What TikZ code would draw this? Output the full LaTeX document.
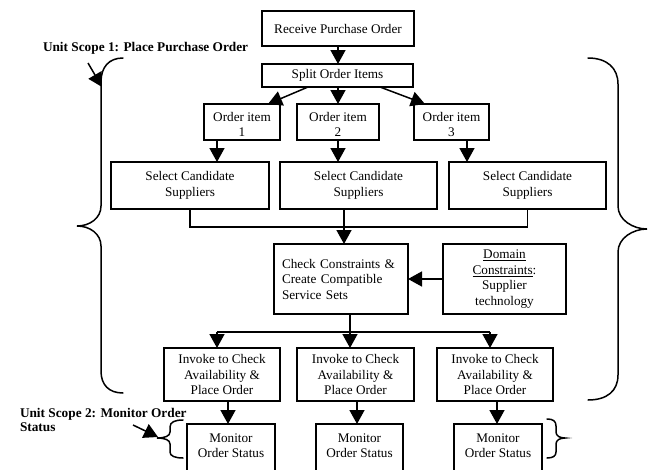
\documentclass[tikz,border=0pt]{standalone}
\usepackage{fontspec}
\setmainfont{Liberation Serif}
\usetikzlibrary{arrows.meta}
\begin{document}
\begin{tikzpicture}[x=1pt,y=-1pt,
  box/.style={draw, line width=1.5pt, inner sep=0pt, outer sep=0pt, align=center, font=\fontsize{13.2}{15.5}\selectfont},
  txt/.style={inner sep=0pt, outer sep=0pt, align=center, font=\fontsize{13.2}{15.5}\selectfont},
  conn/.style={line width=1.5pt},
  arr/.style={conn, -{Triangle[length=14pt,width=15pt]}},
  brace/.style={line width=1.5pt, line cap=round},
  lab/.style={inner sep=0pt, outer sep=0pt, font=\fontsize{13.3}{14.5}\selectfont\bfseries, align=left}]
\clip (0,0) rectangle (651,469);

% boxes
\node[box, minimum width=152pt, minimum height=35pt] (recv) at (338,28.5) {Receive Purchase Order};
\node[box, minimum width=151pt, minimum height=23pt] (split) at (337.5,75.5) {Split Order Items};

\node[box, minimum width=76pt, minimum height=36pt] (it1) at (242,122) {};
\node[box, minimum width=82pt, minimum height=36pt] (it2) at (338,122) {};
\node[box, minimum width=75pt, minimum height=36pt] (it3) at (451.5,122) {};
\begin{scope}
\clip (it1.north west) rectangle ([yshift=2.5pt]it3.south east);
\node[txt, anchor=north] (it1t) at ([yshift=-8pt]it1.north) {Order item\\1};
\node[txt, anchor=north] (it2t) at ([yshift=-8pt]it2.north) {Order item\\2};
\node[txt, anchor=north] (it3t) at ([yshift=-8pt]it3.north) {Order item\\3};
\end{scope}

\node[box, minimum width=158pt, minimum height=47pt] (sel1) at (190,185.5) {Select Candidate\\Suppliers};
\node[box, minimum width=157pt, minimum height=47pt] (sel2) at (358.5,185.5) {Select Candidate\\Suppliers};
\node[box, minimum width=157pt, minimum height=47pt] (sel3) at (527.5,185.5) {Select Candidate\\Suppliers};

\node[box, minimum width=134pt, minimum height=70pt, text width=118pt, inner xsep=8pt, align=left] (chk) at (341,279) {Check Constraints \&\\Create Compatible\\Service Sets};
\node[box, minimum width=123pt, minimum height=70pt] (dom) at (504.5,279) {\underline{Domain}\\\underline{Constraints}:\\Supplier\\technology};

\node[box, minimum width=116pt, minimum height=53pt] (inv1) at (222,374.5) {Invoke to Check\\Availability \&\\Place Order};
\node[box, minimum width=117pt, minimum height=53pt] (inv2) at (355.5,374.5) {Invoke to Check\\Availability \&\\Place Order};
\node[box, minimum width=116pt, minimum height=53pt] (inv3) at (495,374.5) {Invoke to Check\\Availability \&\\Place Order};

\node[box, anchor=north, minimum width=88pt, minimum height=60pt] (mon1) at (231,424) {};
\node[box, anchor=north, minimum width=87pt, minimum height=60pt] (mon2) at (359.5,424) {};
\node[box, anchor=north, minimum width=88pt, minimum height=60pt] (mon3) at (498,424) {};
\node[txt, anchor=north] (mon1t) at ([yshift=-9.5pt]mon1.north) {Monitor\\Order Status};
\node[txt, anchor=north] (mon2t) at ([yshift=-9.5pt]mon2.north) {Monitor\\Order Status};
\node[txt, anchor=north] (mon3t) at ([yshift=-9.5pt]mon3.north) {Monitor\\Order Status};

% connectors
\draw[arr] (recv.south) -- (recv.south |- split.north);
\draw[arr] ([xshift=-29.5pt]split.south) -- ([xshift=26pt]it1.north);
\draw[arr] (split.south -| it2.north) -- (it2.north);
\draw[arr] ([xshift=42.5pt]split.south) -- ([xshift=-26.5pt]it3.north);

\draw[arr] ([xshift=-25pt]it1.south) -- ([xshift=-25pt]it1.south |- sel1.north);
\draw[arr] (it2.south) -- (it2.south |- sel2.north);
\draw[arr] ([xshift=15.5pt]it3.south) -- ([xshift=15.5pt]it3.south |- sel3.north);

\draw[conn] (sel1.south) -- ++(0,18) -| (sel3.south);
\draw[arr] ([xshift=-14.5pt]sel2.south) -- ([xshift=-14.5pt]sel2.south |- chk.north);

\draw[arr] (dom.west) -- (chk.east);

\coordinate (bus) at (350,332);
\coordinate (busL) at (217,332);
\coordinate (busR) at (490,332);
\draw[conn] ([xshift=9pt]chk.south) -- (bus);
\draw[conn] (busL) -- (busR);
\draw[arr] (busL) -- (busL |- inv1.north);
\draw[arr] (bus) -- (bus |- inv2.north);
\draw[arr] (busR) -- (busR |- inv3.north);

\draw[arr] ([xshift=6pt]inv1.south) -- ([xshift=6pt]inv1.south |- mon1.north);
\draw[arr] ([xshift=1.5pt]inv2.south) -- ([xshift=1.5pt]inv2.south |- mon2.north);
\draw[arr] ([xshift=2pt]inv3.south) -- ([xshift=2pt]inv3.south |- mon3.north);

% braces
\draw[brace] (123,58) .. controls (109,58) and (101,67) .. (101,82) -- (101,206)
  .. controls (101,218) and (90,226) .. (77,226)
  .. controls (90,226) and (101,234) .. (101,246) -- (101,371)
  .. controls (101,385) and (109,393) .. (123,393);
\draw[brace] (588,58) .. controls (607,58) and (618,68) .. (618,84) -- (618,206)
  .. controls (618,220) and (633,229) .. (647,229)
  .. controls (633,229) and (618,238) .. (618,252) -- (618,375)
  .. controls (618,391) and (607,400) .. (588,400);
\draw[brace] (183,420) .. controls (175,420) and (170,422) .. (170,427) -- (170,432)
  .. controls (170,436) and (165,438) .. (157,438)
  .. controls (165,438) and (170,440) .. (170,444) -- (170,452)
  .. controls (170,456) and (175,458) .. (183,458);
\draw[brace] (547,419) .. controls (553,419) and (556,421) .. (556,426) -- (556,432)
  .. controls (556,436) and (560,438) .. (565,438)
  .. controls (560,438) and (556,440) .. (556,444) -- (556,452)
  .. controls (556,456) and (553,458) .. (547,458);

% labels
\node[lab, anchor=base west] (u1) at (43,51) {Unit Scope 1: Place Purchase Order};
\coordinate (u1a) at (88,63);
\coordinate (u1b) at (102,87);
\draw[arr] (u1a) -- (u1b);

\node[lab, anchor=north west] (u2) at (20,408) {Unit Scope 2: Monitor Order\\Status};
\coordinate (u2a) at (133,425);
\coordinate (u2b) at (158,437);
\draw[arr] (u2a) -- (u2b);
\end{tikzpicture}
\end{document}
